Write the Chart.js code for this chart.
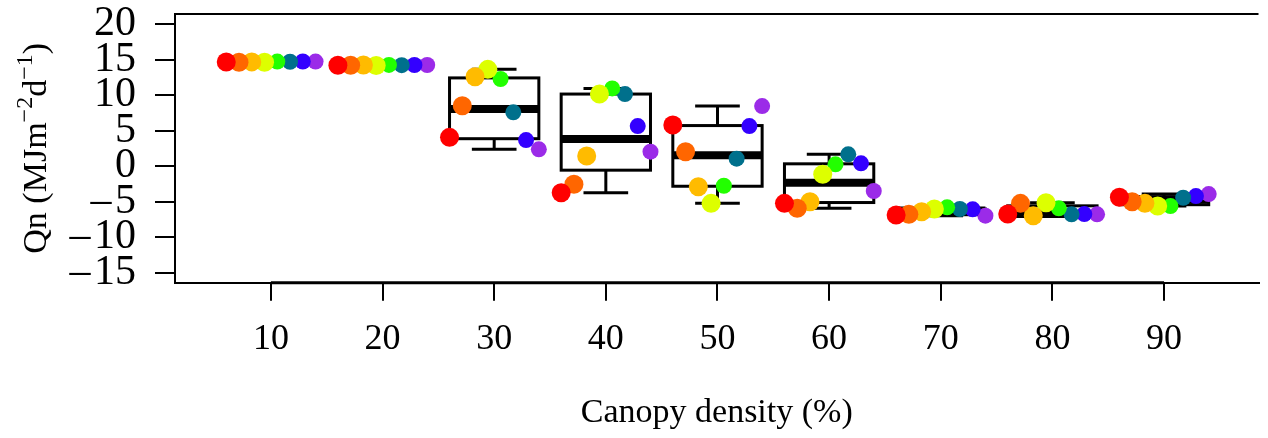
<!DOCTYPE html>
<html>
<head>
<meta charset="utf-8">
<script src="https://cdn.jsdelivr.net/npm/chart.js@4"></script>
<style>
  html, body { margin: 0; padding: 0; background: #fff; overflow: hidden; }
</style>
</head>
<body>
<canvas id="chart" width="1268" height="438"></canvas>
<script>
const categories = [10, 20, 30, 40, 50, 60, 70, 80, 90]
const xTicks = [10, 20, 30, 40, 50, 60, 70, 80, 90]
const yTicks = [-15, -10, -5, 0, 5, 10, 15, 20]

// Qn per canopy density, one array per point colour
const red    = [14.68, 14.24, 4.07, -3.73, 5.80, -5.23, -6.88, -6.74, -4.38]
const orange = [14.66, 14.22, 8.52, -2.55, 2.05, -5.93, -6.78, -5.23, -5.00]
const amber  = [14.70, 14.26, 12.60, 1.44, -2.89, -5.00, -6.41, -6.97, -5.23]
const yellow = [14.64, 14.20, 13.65, 10.17, -5.23, -1.14, -6.03, -5.14, -5.61]
const green  = [14.74, 14.28, 12.29, 10.97, -2.75, 0.27, -5.79, -5.93, -5.61]
const teal   = [14.72, 14.24, 7.60, 10.17, 1.06, 1.68, -6.03, -6.78, -4.44]
const blue   = [14.76, 14.26, 3.69, 5.66, 5.66, 0.41, -6.07, -6.74, -4.20]
const purple = [14.74, 14.26, 2.38, 2.05, 8.48, -3.49, -6.97, -6.78, -3.92]

const series = [red, orange, amber, yellow, green, teal, blue, purple]
const colors = ['#ff0000', '#ff6600', '#ffbb00', '#ddff00', '#22ff00', '#00708c', '#3300ff', '#9b2be8']
const radii = [9.5, 9.5, 9.5, 9.5, 8, 8, 8, 8]

const serif = '"Liberation Serif", "Times New Roman", serif'

// points sit side by side inside each box (0.8 of the category step)
function offset(i) {
	return -4 + i * 8 / (series.length - 1)
}

function fivenum(vals) {
	const s = [...vals].sort((a, b) => a - b)
	const n = s.length
	const n4 = Math.floor((n + 3) / 2) / 2
	const d = [1, n4, (n + 1) / 2, n + 1 - n4, n]
	return d.map(k => 0.5 * (s[Math.floor(k) - 1] + s[Math.ceil(k) - 1]))
}

const boxPlot = {
	id: 'boxPlot',
	beforeDatasetsDraw(chart) {
		const { ctx, chartArea, scales: { x, y } } = chart
		ctx.save()
		ctx.strokeStyle = '#000'
		ctx.lineCap = 'butt'

		// top of the frame
		ctx.lineWidth = 2
		ctx.beginPath()
		ctx.moveTo(chartArea.left, chartArea.top)
		ctx.lineTo(chartArea.right, chartArea.top)
		ctx.stroke()

		const line = (x1, y1, x2, y2) => {
			ctx.beginPath()
			ctx.moveTo(x1, y1)
			ctx.lineTo(x2, y2)
			ctx.stroke()
		}

		// axis line between first and last tick, a bit heavier than the frame
		ctx.lineWidth = 3
		line(x.getPixelForValue(xTicks[0]), chartArea.bottom, x.getPixelForValue(xTicks[xTicks.length - 1]), chartArea.bottom)

		categories.forEach((cat, i) => {
			const vals = series.map(s => s[i])
			const [, q1, med, q3] = fivenum(vals)
			const iqr = q3 - q1
			const inside = vals.filter(v => v >= q1 - 1.5 * iqr && v <= q3 + 1.5 * iqr)
			const lo = Math.min(...inside)
			const hi = Math.max(...inside)

			const left = x.getPixelForValue(cat - 4)
			const right = x.getPixelForValue(cat + 4)
			const sl = x.getPixelForValue(cat - 2)
			const sr = x.getPixelForValue(cat + 2)
			const c = x.getPixelForValue(cat)

			ctx.lineWidth = 3
			line(c, y.getPixelForValue(q3), c, y.getPixelForValue(hi))
			line(c, y.getPixelForValue(q1), c, y.getPixelForValue(lo))
			line(sl, y.getPixelForValue(hi), sr, y.getPixelForValue(hi))
			line(sl, y.getPixelForValue(lo), sr, y.getPixelForValue(lo))
			ctx.strokeRect(left, y.getPixelForValue(q3), right - left, y.getPixelForValue(q1) - y.getPixelForValue(q3))

			ctx.lineWidth = 8
			line(left, y.getPixelForValue(med), right, y.getPixelForValue(med))
		})
		ctx.restore()
	}
}

// y title with real superscripts
const yTitle = {
	id: 'yTitle',
	afterDraw(chart) {
		const { ctx, chartArea } = chart
		const parts = [
			['Qn (MJm', 0], ['\u22122', 1], ['d', 0], ['\u22121', 1], [')', 0]
		]
		const big = '34px ' + serif
		const small = '24px ' + serif
		ctx.save()
		ctx.fillStyle = '#000'
		ctx.textBaseline = 'alphabetic'
		ctx.textAlign = 'left'
		let total = 0
		parts.forEach(([t, sup]) => {
			ctx.font = sup ? small : big
			total += ctx.measureText(t).width
		})
		ctx.translate(46, (chartArea.top + chartArea.bottom) / 2)
		ctx.rotate(-Math.PI / 2)
		let pos = -total / 2
		parts.forEach(([t, sup]) => {
			ctx.font = sup ? small : big
			ctx.fillText(t, pos, sup ? -14 : 0)
			pos += ctx.measureText(t).width
		})
		ctx.restore()
	}
}

const datasets = series.map((vals, k) => ({
	data: vals.map((v, i) => ({ x: categories[i] + offset(k), y: v })),
	backgroundColor: colors[k],
	pointRadius: radii[k],
	pointHoverRadius: radii[k],
	pointBorderWidth: 0,
}))

// R draws a long minus in front of negative ticks
const minus = v => v < 0 ? '\u2013\u200A' + Math.abs(v) : String(v)

new Chart(document.getElementById('chart'), {
	type: 'scatter',
	data: { datasets },
	plugins: [boxPlot, yTitle],
	options: {
		responsive: false,
		animation: false,
		layout: { padding: { top: 14, left: 0, right: 0, bottom: 0 } },
		plugins: {
			legend: { display: false },
			tooltip: { enabled: false },
		},
		scales: {
			x: {
				type: 'linear',
				min: 1.41,
				max: 98.46,
				afterBuildTicks: s => { s.ticks = xTicks.map(v => ({ value: v })) },
				afterFit: s => {
					s.height = 155.3
					s.paddingLeft = 0
					s.paddingRight = 0
				},
				grid: { drawOnChartArea: false, tickLength: 18, color: '#000', lineWidth: 2 },
				border: { color: '#000', width: 2 },
				ticks: {
					color: '#000',
					padding: 17,
					maxRotation: 0,
					autoSkip: false,
					font: { family: serif, size: 36 },
				},
				title: {
					display: true,
					text: 'Canopy density (%)',
					color: '#000',
					font: { family: serif, size: 34 },
					padding: { top: 0, bottom: 5 },
				},
			},
			y: {
				type: 'linear',
				min: -16.41,
				max: 21.45,
				afterBuildTicks: s => { s.ticks = yTicks.map(v => ({ value: v })) },
				afterFit: s => {
					s.width = 175
					s.paddingTop = 0
					s.paddingBottom = 0
				},
				grid: { drawOnChartArea: false, tickLength: 20, color: '#000', lineWidth: 2 },
				border: { color: '#000', width: 2 },
				ticks: {
					color: '#000',
					padding: 19,
					autoSkip: false,
					font: { family: serif, size: 42 },
					callback: minus,
				},
			},
		},
	},
})
</script>
</body>
</html>
